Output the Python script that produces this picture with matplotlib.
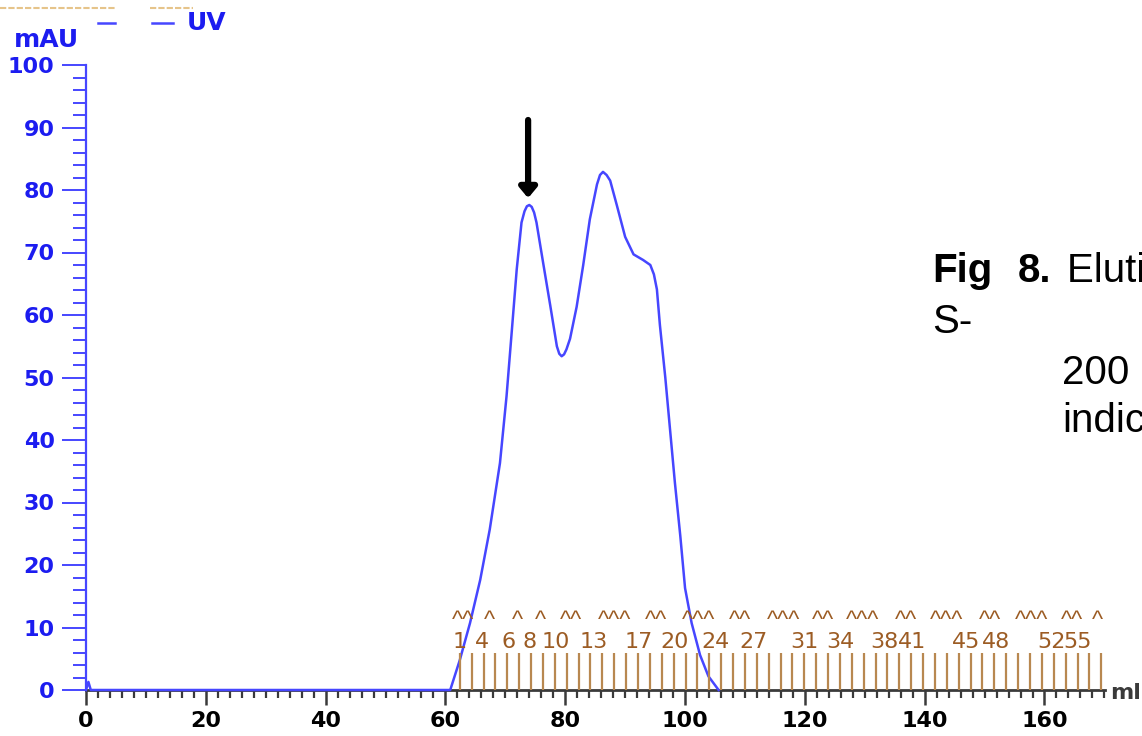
import matplotlib
matplotlib.use("Agg")
import matplotlib.pyplot as plt
from matplotlib.lines import Line2D
from matplotlib.ticker import MultipleLocator

plt.rcParams['font.family'] = ['DejaVu Sans']

# ---------------- data ----------------
volume_ml = [0, 0.4, 0.8, 60.8, 62.4, 64.1, 65.8, 67.4, 69.1, 70.2, 71.1, 71.9, 72.7,
             73.2, 73.6, 74.0, 74.4, 74.8, 75.2, 76.3, 77.5, 78.6, 79.0, 79.4, 79.8,
             80.2, 80.8, 81.9, 83.0, 84.1, 85.3, 85.8, 86.3, 86.9, 87.5, 88.6, 90.0,
             91.4, 93.0, 94.2, 94.8, 95.3, 95.8, 96.7, 97.5, 98.3, 99.2, 100.0, 101.1,
             102.5, 103.9, 105.6]
uv_mau = [0, 1.3, 0, 0, 4.8, 10.7, 17.6, 25.7, 36.3, 47.0, 57.7, 67.3, 74.8,
          76.6, 77.4, 77.6, 77.3, 76.4, 74.8, 68.4, 61.5, 55.0, 53.8, 53.4, 53.7,
          54.5, 56.2, 61.3, 68.0, 75.3, 80.9, 82.4, 82.9, 82.4, 81.5, 77.6, 72.5,
          69.7, 68.8, 68.0, 66.5, 64.1, 58.4, 50.0, 41.6, 33.2, 24.7, 16.3, 10.7,
          5.6, 2.2, 0]

fraction_marks_ml = [62.40, 64.38, 66.37, 68.35, 70.33, 72.32, 74.30, 76.28, 78.26, 80.25,
                     82.23, 84.21, 86.20, 88.18, 90.16, 92.15, 94.13, 96.11, 98.09, 100.08,
                     102.06, 104.04, 106.03, 108.01, 109.99, 111.98, 113.96, 115.94, 117.92,
                     119.91, 121.89, 123.87, 125.86, 127.84, 129.82, 131.81, 133.79, 135.77,
                     137.75, 139.74, 141.72, 143.70, 145.69, 147.67, 149.65, 151.64, 153.62,
                     155.60, 157.58, 159.57, 161.55, 163.53, 165.52, 167.50, 169.48]
fraction_labels = ['1', '4', '6', '8', '10', '13', '17', '20', '24', '27', '31', '34',
                   '38', '41', '45', '48', '52', '55']
fraction_label_ml = [62.4, 66.1, 70.5, 74.0, 78.4, 84.7, 92.3, 98.2, 105.1, 111.4, 119.9,
                     126.0, 133.2, 137.9, 146.9, 151.9, 161.1, 165.6]
event_marks = ['^^', '^', '^', '^', '^^', '^^^', '^^', '^^^', '^^', '^^^', '^^', '^^^',
               '^^', '^^^', '^^', '^^^', '^^', '^']
event_mark_ml = [62.9, 67.4, 72.1, 75.8, 81.0, 88.3, 95.2, 102.2, 109.2, 116.4, 123.0,
                 129.7, 136.9, 143.7, 150.9, 157.9, 164.6, 168.8]
arrow_ml = 73.8
arrow_tip_mau = 78.7
arrow_tail_mau = 91.2

x_ticks = [0, 20, 40, 60, 80, 100, 120, 140, 160]
y_ticks = [0, 10, 20, 30, 40, 50, 60, 70, 80, 90, 100]

# ---------------- style ----------------
W, H = 1142, 736
BLUE_TXT = '#1c1cf0'
BLUE_LINE = '#4646ff'
BROWN_LINE = '#b88850'
BROWN_TXT = '#9c5c24'
AXIS_GRAY = '#3a3a3a'
ARIAL = ['Liberation Sans', 'DejaVu Sans']

fig = plt.figure(figsize=(W / 100, H / 100), dpi=100)
ax = fig.add_axes([86 / W, 1 - 690 / H, (1105 - 86) / W, (690 - 65) / H])
ax.set_xlim(0, 170.1)
ax.set_ylim(0, 100)

for s in ['top', 'right']:
    ax.spines[s].set_visible(False)
ax.spines['left'].set_color(BLUE_LINE)
ax.spines['left'].set_linewidth(1.6)
ax.spines['bottom'].set_color(AXIS_GRAY)
ax.spines['bottom'].set_linewidth(2.0)
ax.spines['bottom'].set_zorder(1)

# fraction marks
ax.vlines(fraction_marks_ml, 0, 5.9, color=BROWN_LINE, lw=1.6, zorder=3)
for lab, xv in zip(fraction_labels, fraction_label_ml):
    ax.text(xv, 7.6, lab, color=BROWN_TXT, fontsize=16, ha='center', va='center',
            clip_on=True, zorder=3)
for m, xv in zip(event_marks, event_mark_ml):
    ax.text(xv, 10.1, m, color=BROWN_TXT, fontsize=17, ha='center', va='baseline',
            family=ARIAL, clip_on=True, zorder=3)

# UV curve
ax.plot(volume_ml, uv_mau, color=BLUE_LINE, lw=1.8, zorder=2, clip_on=False,
        solid_joinstyle='round')

# arrow
ax.annotate('', xy=(arrow_ml, arrow_tip_mau), xytext=(arrow_ml, arrow_tail_mau),
            arrowprops=dict(arrowstyle='-|>,head_length=0.6,head_width=0.5',
                            lw=4.5, color='black', shrinkA=0, shrinkB=0),
            zorder=5)

# ticks
ax.set_xticks(x_ticks)
ax.set_yticks(y_ticks)
ax.xaxis.set_minor_locator(MultipleLocator(2))
ax.yaxis.set_minor_locator(MultipleLocator(2))
ax.tick_params(axis='x', which='major', length=11, width=1.8, color=AXIS_GRAY,
               labelsize=16, pad=4, direction='out')
ax.tick_params(axis='x', which='minor', length=5.5, width=1.6, color=AXIS_GRAY,
               direction='out')
ax.tick_params(axis='y', which='major', length=17.5, width=1.4, color=BLUE_LINE,
               labelsize=16, labelcolor=BLUE_TXT, pad=5, direction='out')
ax.tick_params(axis='y', which='minor', length=9.5, width=1.4, color=BLUE_LINE,
               direction='out')
for lb in ax.get_xticklabels():
    lb.set_fontweight('bold')
for lb in ax.get_yticklabels():
    lb.set_fontweight('bold')

# axis unit labels
fig.text(1110 / W, 1 - 693 / H, 'ml', fontsize=16, fontweight='bold', color=AXIS_GRAY,
         ha='left', va='center')
fig.text(14 / W, 1 - 40 / H, 'mAU', fontsize=18, fontweight='bold', color=BLUE_TXT,
         ha='left', va='center')

# top legend
fig.add_artist(Line2D([0, 115 / W], [1 - 8 / H, 1 - 8 / H], color='#e6c48a', lw=1.5,
                      ls=(0, (3, 1)), transform=fig.transFigure))
fig.add_artist(Line2D([150 / W, 193 / W], [1 - 8 / H, 1 - 8 / H], color='#e6c48a', lw=1.5,
                      ls=(0, (3, 1)), transform=fig.transFigure))
fig.add_artist(Line2D([98 / W, 115 / W], [1 - 23 / H, 1 - 23 / H], color=BLUE_LINE, lw=1.8,
                      transform=fig.transFigure))
fig.add_artist(Line2D([152 / W, 173 / W], [1 - 23 / H, 1 - 23 / H], color=BLUE_LINE, lw=1.8,
                      transform=fig.transFigure))
fig.text(187 / W, 1 - 23 / H, 'UV', fontsize=18, fontweight='bold', color=BLUE_TXT,
         ha='left', va='center')

# caption text (cut by the figure edge, as in the reference)
fig.text(932 / W, 1 - 282 / H, 'Fig', fontsize=29, fontweight='bold', color='black',
         ha='left', va='baseline', family=ARIAL)
fig.text(1018 / W, 1 - 282 / H, '8.', fontsize=29, fontweight='bold', color='black',
         ha='left', va='baseline', family=ARIAL)
fig.text(1067 / W, 1 - 282 / H, 'Elution profile', fontsize=29, color='black',
         ha='left', va='baseline', family=ARIAL)
fig.text(932 / W, 1 - 333 / H, 'S-', fontsize=29, color='black', ha='left', va='baseline',
         family=ARIAL)
fig.text(1062 / W, 1 - 384 / H, '200 column', fontsize=29, color='black', ha='left',
         va='baseline', family=ARIAL)
fig.text(1062 / W, 1 - 432 / H, 'indicated', fontsize=29, color='black', ha='left',
         va='baseline', family=ARIAL)

fig.savefig('out.png', dpi=100)
